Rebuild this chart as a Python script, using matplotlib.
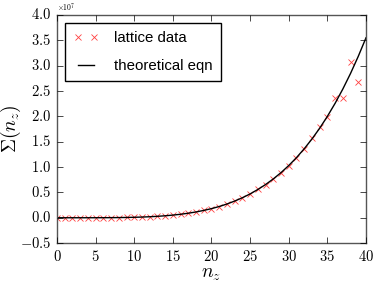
import matplotlib
matplotlib.use("Agg")
import matplotlib.pyplot as plt
from matplotlib.ticker import FuncFormatter

plt.style.use('classic')
plt.rcParams['mathtext.fontset'] = 'cm'

# values in units of 1e7
n_lattice = list(range(0, 40))
sigma_lattice = [0.0, 0.0, 0.0, 0.0001, 0.0002, 0.0005, 0.001, 0.002, 0.0035, 0.0058,
                 0.0092, 0.0138, 0.020, 0.0283, 0.0389, 0.0523, 0.069, 0.0896, 0.1145, 0.1446,
                 0.180, 0.222, 0.271, 0.329, 0.395, 0.470, 0.558, 0.655, 0.766, 0.890,
                 1.03, 1.186, 1.36, 1.58, 1.80, 1.98, 2.37, 2.37, 3.07, 2.68]

n_theory = list(range(0, 41))
sigma_theory = [0.0, 0.0, 0.0, 0.0001, 0.0002, 0.0005, 0.001, 0.002, 0.0035, 0.0058,
                0.0092, 0.0138, 0.020, 0.0283, 0.0389, 0.0523, 0.069, 0.0896, 0.1145, 0.1446,
                0.180, 0.222, 0.271, 0.329, 0.395, 0.470, 0.558, 0.655, 0.766, 0.890,
                1.03, 1.186, 1.36, 1.553, 1.765, 2.0, 2.257, 2.539, 2.847, 3.184, 3.55]

fig = plt.figure(figsize=(3.81, 2.86), dpi=100, facecolor='white')
ax = fig.add_axes([0.1496, 0.150, 0.811, 0.7976])

ax.plot(n_lattice, sigma_lattice, 'x', color='#ff4040', mew=0.6, ms=5, label='lattice data')
ax.plot(n_theory, sigma_theory, '-', color='black', lw=1, label='theoretical eqn')

ax.set_xlim(0, 40)
ax.set_ylim(-0.5, 4.0)
ax.set_xticks(range(0, 41, 5))
ax.set_yticks([-0.5, 0.0, 0.5, 1.0, 1.5, 2.0, 2.5, 3.0, 3.5, 4.0])
ax.xaxis.set_major_formatter(FuncFormatter(lambda v, p: r'$%d$' % v))
ax.yaxis.set_major_formatter(FuncFormatter(lambda v, p: r'$%.1f$' % v))
ax.tick_params(labelsize=10.5, length=4)
ax.minorticks_off()
for s in ax.spines.values():
    s.set_color('#555555')

ax.text(0.0, 1.005, r'$\times10^{7}$', transform=ax.transAxes, fontsize=5.5, va='bottom', ha='left')

ax.set_xlabel(r'$n_z$', fontsize=14, labelpad=0)
ax.set_ylabel(r'$\Sigma(n_z)$', fontsize=14)
ax.yaxis.set_label_coords(-0.11, 0.5)

ax.legend(loc='upper left', numpoints=2, fancybox=False,
          prop={'family': 'Liberation Sans', 'size': 10.8},
          borderaxespad=0.55, handlelength=1.7, handletextpad=1.0,
          labelspacing=0.9, borderpad=0.55)

fig.savefig('out.png', dpi=100, facecolor='white')
